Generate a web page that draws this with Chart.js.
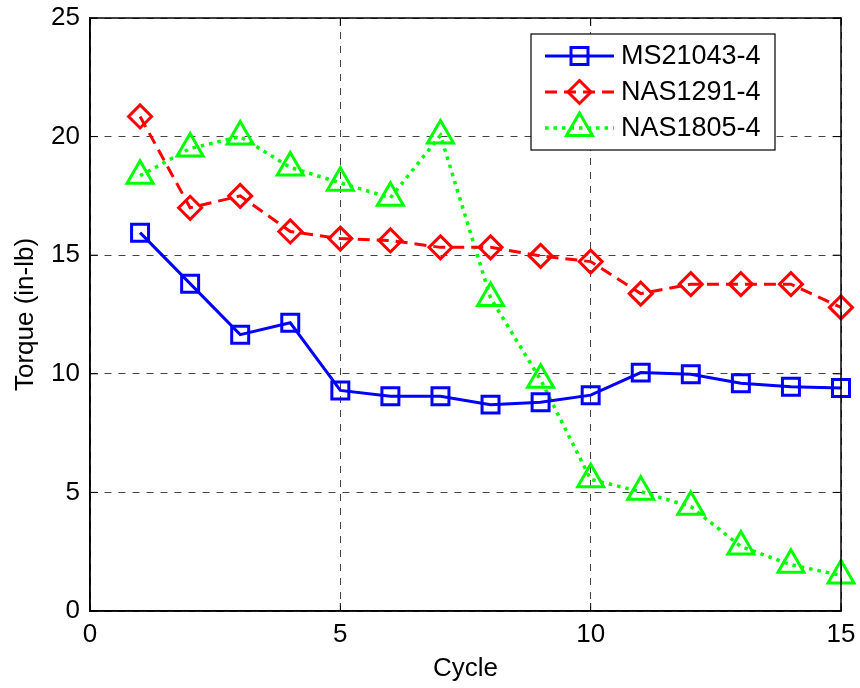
<!DOCTYPE html>
<html>
<head>
<meta charset="utf-8">
<script src="https://cdn.jsdelivr.net/npm/chart.js@4"></script>
<style>
  html, body { margin: 0; padding: 0; background: #fff; }
  #wrap { width: 860px; height: 688px; }
</style>
</head>
<body>
<div id="wrap"><canvas id="torqueChart" width="860" height="688"></canvas></div>
<script>
// Dati
const cycles = [1, 2, 3, 4, 5, 6, 7, 8, 9, 10, 11, 12, 13, 14, 15];
const ms21043 = [15.95, 13.8, 11.65, 12.15, 9.3, 9.05, 9.05, 8.7, 8.8, 9.1, 10.05, 9.98, 9.6, 9.45, 9.4];
const nas1291 = [20.85, 17.0, 17.5, 16.0, 15.7, 15.62, 15.33, 15.33, 14.97, 14.73, 13.38, 13.78, 13.78, 13.78, 12.8];
const nas1805 = [18.35, 19.5, 20.0, 18.7, 18.05, 17.42, 20.05, 13.2, 9.75, 5.55, 5.03, 4.4, 2.72, 1.95, 1.5];
const seriesNames = ['MS21043-4', 'NAS1291-4', 'NAS1805-4'];
const xTicks = [0, 5, 10, 15];
const yTicks = [0, 5, 10, 15, 20, 25];

const FONT = "'Liberation Sans', Arial, sans-serif";

const toPoints = (vals) => cycles.map((c, i) => ({ x: c, y: vals[i] }));

// Riquadro, tacche interne e legenda stile MATLAB
const matlabFrame = {
    id: 'matlabFrame',
    afterDatasetsDraw(chart) {
        const { ctx, chartArea: a, scales } = chart;
        ctx.save();
        ctx.strokeStyle = '#000';
        ctx.lineWidth = 1.5;
        ctx.setLineDash([]);
        ctx.strokeRect(a.left, a.top, a.right - a.left, a.bottom - a.top);
        const t = 8;
        ctx.lineWidth = 1;
        ctx.beginPath();
        xTicks.forEach(v => {
            const px = scales.x.getPixelForValue(v);
            ctx.moveTo(px, a.bottom); ctx.lineTo(px, a.bottom - t);
            ctx.moveTo(px, a.top); ctx.lineTo(px, a.top + t);
        });
        yTicks.forEach(v => {
            const py = scales.y.getPixelForValue(v);
            ctx.moveTo(a.left, py); ctx.lineTo(a.left + t, py);
            ctx.moveTo(a.right, py); ctx.lineTo(a.right - t, py);
        });
        ctx.stroke();

        // legenda
        const bx = a.right - 310, by = a.top + 16, bw = 244, bh = 116;
        ctx.fillStyle = '#fff';
        ctx.fillRect(bx, by, bw, bh);
        ctx.strokeStyle = '#000';
        ctx.lineWidth = 1.2;
        ctx.strokeRect(bx, by, bw, bh);
        chart.data.datasets.forEach((ds, i) => {
            const y = by + 22 + i * 36;
            const x0 = bx + 14, x1 = bx + 83, xm = (x0 + x1) / 2;
            ctx.save();
            ctx.strokeStyle = ds.borderColor;
            ctx.lineWidth = ds.borderWidth;
            ctx.setLineDash(ds.borderDash || []);
            ctx.beginPath();
            ctx.moveTo(x0, y); ctx.lineTo(x1, y);
            ctx.stroke();
            ctx.setLineDash([]);
            ctx.lineWidth = ds.pointBorderWidth;
            ctx.strokeStyle = ds.pointBorderColor;
            ctx.fillStyle = 'rgba(0,0,0,0)';
            Chart.helpers.drawPoint(ctx, {
                pointStyle: ds.pointStyle,
                radius: ds.pointRadius,
                rotation: 0,
                borderWidth: ds.pointBorderWidth
            }, xm, y);
            ctx.restore();
            ctx.fillStyle = '#000';
            ctx.font = '27px ' + FONT;
            ctx.textBaseline = 'middle';
            ctx.textAlign = 'left';
            ctx.fillText(ds.label, bx + 90, y + 1);
        });
        ctx.restore();
    }
};

const ctx = document.getElementById('torqueChart').getContext('2d');
const torqueChart = new Chart(ctx, {
    type: 'line',
    data: {
        datasets: [
            {
                label: seriesNames[0],
                data: toPoints(ms21043),
                borderColor: '#0000ff',
                borderWidth: 3,
                pointStyle: 'rect',
                pointRadius: 12,
                pointBorderWidth: 3,
                pointBorderColor: '#0000ff',
                pointBackgroundColor: 'rgba(0,0,0,0)'
            },
            {
                label: seriesNames[1],
                data: toPoints(nas1291),
                borderColor: '#ff0000',
                borderWidth: 3,
                borderDash: [12, 7],
                pointStyle: 'rectRot',
                pointRadius: 11.5,
                pointBorderWidth: 3,
                pointBorderColor: '#ff0000',
                pointBackgroundColor: 'rgba(0,0,0,0)'
            },
            {
                label: seriesNames[2],
                data: toPoints(nas1805),
                borderColor: '#00ff00',
                borderWidth: 3.5,
                borderDash: [3.5, 5],
                pointStyle: 'triangle',
                pointRadius: 15,
                pointBorderWidth: 3,
                pointBorderColor: '#00ff00',
                pointBackgroundColor: 'rgba(0,0,0,0)'
            }
        ]
    },
    options: {
        responsive: false,
        animation: false,
        events: [],
        layout: { padding: { left: 0, right: 19, top: 18, bottom: 0 } },
        elements: { line: { tension: 0, fill: false }, point: { hoverRadius: 12 } },
        datasets: { line: { clip: false } },
        plugins: { legend: { display: false }, tooltip: { enabled: false } },
        scales: {
            x: {
                type: 'linear',
                min: 0, max: 15,
                afterFit: (s) => { s.height = 77; s.paddingLeft = 0; s.paddingRight = 0; },
                afterBuildTicks: (s) => { s.ticks = xTicks.map(v => ({ value: v })); },
                grid: { color: '#444', lineWidth: 1, tickLength: 0, drawTicks: false },
                border: { display: true, color: '#000', width: 1.5, dash: [7, 7] },
                ticks: { color: '#000', font: { family: FONT, size: 26 }, padding: 8, maxRotation: 0 },
                title: { display: true, text: 'Cycle', color: '#000', font: { family: FONT, size: 26 }, padding: { top: 2 } }
            },
            y: {
                min: 0, max: 25,
                afterFit: (s) => { s.width = 90; s.paddingTop = 0; s.paddingBottom = 0; },
                afterBuildTicks: (s) => { s.ticks = yTicks.map(v => ({ value: v })); },
                grid: { color: '#444', lineWidth: 1, tickLength: 0, drawTicks: false },
                border: { display: true, color: '#000', width: 1.5, dash: [7, 7] },
                ticks: { color: '#000', font: { family: FONT, size: 26 }, padding: 10 },
                title: { display: true, text: 'Torque (in-lb)', color: '#000', font: { family: FONT, size: 26 }, padding: { bottom: 0, top: 10 } }
            }
        }
    },
    plugins: [matlabFrame]
});
</script>
</body>
</html>
